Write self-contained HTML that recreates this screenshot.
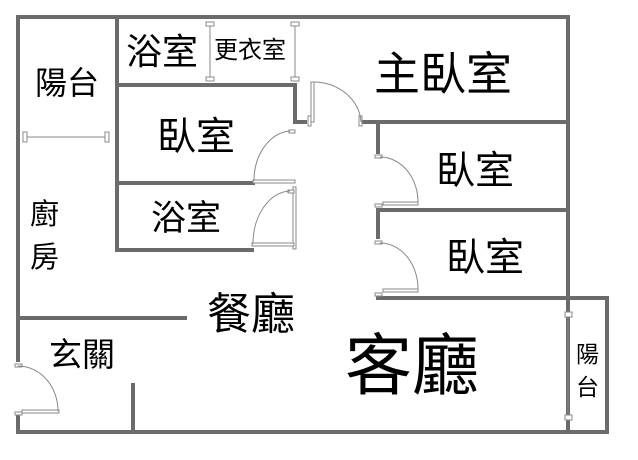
<!DOCTYPE html>
<html><head><meta charset="utf-8"><style>
html,body{margin:0;padding:0;background:#fff;width:638px;height:460px;overflow:hidden}
svg{display:block}
text{font-family:"Liberation Sans","Noto Sans CJK TC",sans-serif;fill:#000}
</style></head><body>
<svg width="638" height="460" viewBox="0 0 638 460">
<g stroke="#6b6b6b" stroke-width="4" fill="none" stroke-linecap="square">
<path d="M18 17 H568 V432"/>
<path d="M18 17 V360 M18 415 V432 H607 V298 H378"/>
<path d="M117 17 V250 H252"/>
<path d="M117 85 H295 V122 H305"/>
<path d="M117 183 H253"/>
<path d="M363 122 H568"/>
<path d="M378 122 V152 M378 210 V237 M378 210 H568"/>
<path d="M18 318 H185"/>
<path d="M133 385 V432"/>
</g>
<g stroke="#888" stroke-width="1" fill="#fff">
<line x1="210" y1="22" x2="210" y2="80"/><rect x="206" y="22" width="8" height="4"/><rect x="206" y="77" width="8" height="4"/>
<line x1="295" y1="22" x2="295" y2="80"/><rect x="291" y="22" width="8" height="4"/><rect x="291" y="77" width="8" height="4"/>
<line x1="25" y1="137" x2="108" y2="137"/><rect x="23" y="132" width="4" height="10"/><rect x="105" y="132" width="4" height="10"/>
<line x1="568" y1="315" x2="568" y2="418"/><rect x="565" y="312" width="7" height="5"/><rect x="565" y="415" width="7" height="5"/>
<rect x="311" y="82" width="3" height="40"/><rect x="308" y="116" width="3" height="10"/><rect x="359" y="116" width="3" height="10"/>
<path d="M313 82 A48 42 0 0 1 361 122" fill="none"/>
<rect x="289" y="130" width="6" height="3"/><rect x="253" y="180" width="42" height="3"/>
<path d="M290 131 A38 50 0 0 0 254 181" fill="none"/>
<rect x="293" y="187" width="3" height="62"/><rect x="288" y="190" width="6" height="3"/><rect x="252" y="243" width="42" height="3"/>
<path d="M290 191 A38 53 0 0 0 253 244" fill="none"/>
<rect x="375" y="155" width="7" height="3"/><rect x="375" y="204" width="7" height="3"/><rect x="383" y="202" width="35" height="3"/>
<path d="M380 157 A38 45 0 0 1 418 203" fill="none"/>
<rect x="375" y="241" width="7" height="3"/><rect x="375" y="293" width="7" height="3"/><rect x="383" y="289" width="35" height="3"/>
<path d="M380 243 A38 46 0 0 1 418 290" fill="none"/>
<rect x="15" y="364" width="7" height="3"/><rect x="15" y="412" width="7" height="3"/><rect x="22" y="410" width="37" height="3"/>
<path d="M18 366 A40 45 0 0 1 58 411" fill="none"/>
</g>
<text x="35" y="94" font-size="32">陽台</text>
<text x="126" y="64" font-size="36">浴室</text>
<text x="214" y="58" font-size="24">更衣室</text>
<text x="374" y="90" font-size="46">主臥室</text>
<text x="157" y="150" font-size="39">臥室</text>
<text x="151" y="230" font-size="35">浴室</text>
<text x="436" y="184" font-size="39">臥室</text>
<text x="446" y="271" font-size="39">臥室</text>
<text x="30" y="224" font-size="29">廚</text>
<text x="30" y="267" font-size="29">房</text>
<text x="207" y="329" font-size="44">餐廳</text>
<text x="49" y="366" font-size="33">玄關</text>
<text x="345" y="389" font-size="67">客廳</text>
<text x="576" y="362" font-size="23">陽</text>
<text x="576" y="395" font-size="23">台</text>
</svg>
</body></html>
